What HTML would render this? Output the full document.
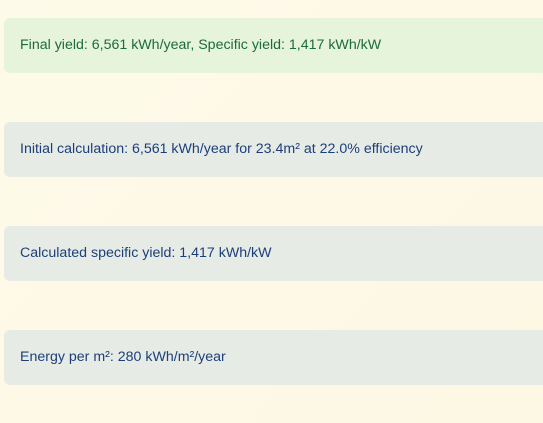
<!DOCTYPE html>
<html><head><meta charset="utf-8"><style>
html,body{margin:0;padding:0}
body{width:543px;height:423px;overflow:hidden;background:linear-gradient(135deg,#fefae9 0%,#fdf8e4 100%);font-family:"Liberation Sans",sans-serif;position:relative}
.box{position:absolute;left:4px;width:560px;height:55px;border-radius:6px;box-sizing:border-box;padding-left:16px;line-height:55px;font-size:14.2px}
.ok{background:#e5f4da;color:#1d6b3b}
.info{background:#e7ebe5;color:#1c3f7a}
</style></head><body>
<div class="box ok" style="top:18px">Final yield: 6,561 kWh/year, Specific yield: 1,417 kWh/kW</div>
<div class="box info" style="top:122px">Initial calculation: 6,561 kWh/year for 23.4m² at 22.0% efficiency</div>
<div class="box info" style="top:226px">Calculated specific yield: 1,417 kWh/kW</div>
<div class="box info" style="top:330px">Energy per m²: 280 kWh/m²/year</div>
</body></html>
